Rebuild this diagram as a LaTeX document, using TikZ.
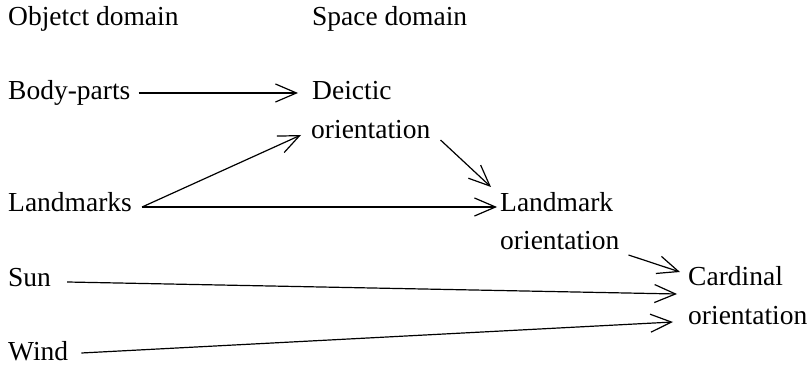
\documentclass[tikz,border=0pt]{standalone}
\usepackage{fontspec}
\setmainfont{Liberation Serif}
\usetikzlibrary{arrows.meta}
\begin{document}
\begin{tikzpicture}[x=1pt,y=-1pt,
  lbl/.style={anchor=base west, inner sep=0pt, font=\fontsize{27.5}{33}\selectfont},
  link/.style={line width=1.2pt, -{Straight Barb[length=21pt,width=18pt,line width=1.2pt]}}]
  \useasboundingbox (0,0) rectangle (812,366);

  % column headings
  \node[lbl] (objd) at (8,26)  {Objetct domain};
  \node[lbl] (spd)  at (312,26) {Space domain};

  % object domain
  \node[lbl] (bp)   at (8,100) {Body-parts};
  \node[lbl] (lm)   at (8,212) {Landmarks};
  \node[lbl] (sun)  at (8,287) {Sun};
  \node[lbl] (wind) at (8,360) {Wind};

  % space domain (two-line labels)
  \node[lbl] (dei)   at (312,100) {Deictic};
  \node[lbl] (deio)  at (311,139) {orientation};
  \node[lbl] (lmk)   at (500,212) {Landmark};
  \node[lbl] (lmko)  at (500,250) {orientation};
  \node[lbl] (card)  at (688,286) {Cardinal};
  \node[lbl] (cardo) at (688,324) {orientation};

  % connectors
  \draw[link] ([shift={(8,-7)}]bp.base east) -- ([shift={(-14,-7)}]dei.base west);
  \draw[link] ([shift={(10,-5)}]lm.base east) -- ([shift={(-10,-4)}]deio.base west);
  \draw[link] ([shift={(10,-5)}]lm.base east) -- ([shift={(-3,-5)}]lmk.base west);
  \draw[link] ([shift={(10,1)}]deio.base east) -- ([shift={(-9,-25)}]lmk.base west);
  \draw[link] ([shift={(9,5)}]lmko.base east) -- ([shift={(-8,-14)}]card.base west);
  \draw[link] ([shift={(16,-5)}]sun.base east) -- ([shift={(-11,8)}]card.base west);
  \draw[link] ([shift={(13,-7)}]wind.base east) -- ([shift={(-15,-2)}]cardo.base west);
\end{tikzpicture}
\end{document}
